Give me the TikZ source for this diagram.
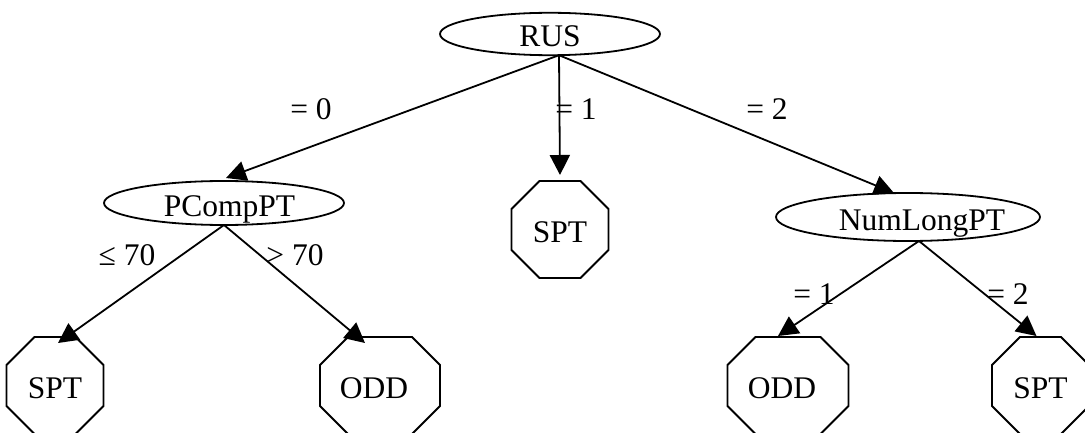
\documentclass[tikz,border=0pt]{standalone}
\usepackage{fontspec}
\setmainfont{Liberation Serif}
\usetikzlibrary{arrows.meta,shapes.geometric}
% octagonal frame around a rectangular leaf node, corners cut by 28pt
\newcommand\octagonframe[1]{%
  \draw[line width=1.8pt, line join=miter]
    ([xshift=28pt]#1.north west) -- ([xshift=-28pt]#1.north east)
    -- ([yshift=-28pt]#1.north east) -- ([yshift=28pt]#1.south east)
    -- ([xshift=-28pt]#1.south east) -- ([xshift=28pt]#1.south west)
    -- ([yshift=28pt]#1.south west) -- ([yshift=-28pt]#1.north west) -- cycle;}
% shift a label sideways without changing the width of its box
\newcommand\nudge[2]{\hspace*{#1}#2\hspace*{-#1}}
\begin{document}
\begin{tikzpicture}[x=1pt,y=-1pt,
  txt/.style={font=\fontsize{31.5pt}{36pt}\selectfont, inner sep=0pt, outer sep=0pt},
  attr/.style={txt, draw, ellipse, line width=1.8pt, text height=28pt, text depth=2pt},
  leaf/.style={txt, rectangle, minimum height=97pt, text height=28pt, text depth=2pt},
  edge/.style={line width=1.8pt, -{Triangle[length=20pt,width=20pt]}},
  elabel/.style={txt, anchor=base},
]
\fill[white] (0,0) rectangle (1085,433);
\useasboundingbox (0,0) rectangle (1085,433);
\clip (0,0) rectangle (1085,433);

% decision (attribute) nodes; some labels sit off the shape centre
\node[attr, minimum width=220pt, minimum height=42pt] (rus) at (550,34) {RUS};
\node[attr, minimum width=240pt, minimum height=44pt] (pc) at (224,203) {\nudge{5.5pt}{PCompPT}};
\node[attr, minimum width=264pt, minimum height=48pt] (nl) at (908,217) {\nudge{14pt}{NumLongPT}};

% leaf nodes (ODD labels sit slightly left of the frame centre)
\node[leaf, minimum width=97pt] (smid) at (560,229.5) {SPT};
\node[leaf, minimum width=97pt] (sl) at (55,385.5) {SPT};
\node[leaf, minimum width=120pt] (odl) at (380,385.5) {\nudge{-6pt}{ODD}};
\node[leaf, minimum width=121pt] (odr) at (788,385.5) {\nudge{-6pt}{ODD}};
\node[leaf, minimum width=97pt] (sr) at (1040.5,385.5) {SPT};
\octagonframe{smid}
\octagonframe{sl}
\octagonframe{odl}
\octagonframe{odr}
\octagonframe{sr}

% branches
\draw[edge] ([xshift=9pt]rus.south) -- ([xshift=2pt,yshift=3pt]pc.north);
\draw[edge] ([xshift=9pt]rus.south) -- ([yshift=6pt]smid.north);
\draw[edge] ([xshift=9pt]rus.south) -- ([xshift=-14pt]nl.north);
\draw[edge] (pc.south) -- ([xshift=3pt,yshift=-6pt]sl.north);
\draw[edge] (pc.south) -- ([xshift=-15pt,yshift=-6pt]odl.north);
\draw[edge] ([xshift=11pt]nl.south) -- ([xshift=-10pt,yshift=1pt]odr.north);
\draw[edge] ([xshift=11pt]nl.south) -- ([xshift=-4pt,yshift=1pt]sr.north);

% branch labels
\node[elabel] (l0) at (311,120) {= 0};
\node[elabel] (l1) at (576,120) {= 1};
\node[elabel] (l2) at (767,120) {= 2};
\node[elabel] (lle) at (127,265) {≤ 70};
\node[elabel] (lgt) at (295,265) {> 70};
\node[elabel] (lr1) at (814,304) {= 1};
\node[elabel] (lr2) at (1008,304) {= 2};
\end{tikzpicture}
\end{document}
